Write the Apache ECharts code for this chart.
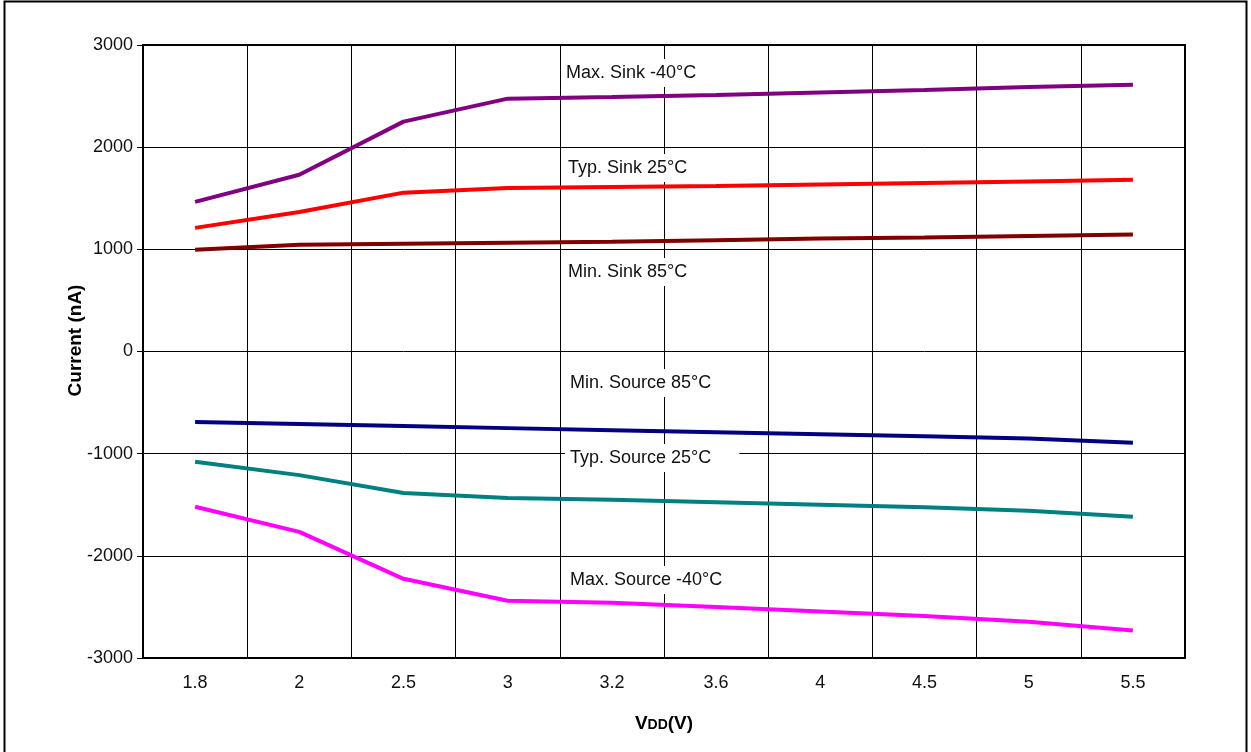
<!DOCTYPE html>
<html>
<head>
<meta charset="utf-8">
<script src="https://cdn.jsdelivr.net/npm/echarts@6/dist/echarts.min.js"></script>
<style>
  html, body { margin: 0; padding: 0; background: #fff; }
  #chart { width: 1251px; height: 752px; }
</style>
</head>
<body>
<div id="chart"></div>
<script>
// VDD categories
const vdd = ['1.8', '2', '2.5', '3', '3.2', '3.6', '4', '4.5', '5', '5.5'];

// current in nA
const maxSink40 = [1465, 1730, 2250, 2475, 2490, 2510, 2535, 2560, 2590, 2612];
const typSink25 = [1210, 1365, 1555, 1600, 1610, 1620, 1635, 1650, 1665, 1680];
const minSink85 = [995, 1045, 1055, 1065, 1075, 1090, 1105, 1115, 1130, 1145];
const minSource85 = [-690, -710, -730, -750, -770, -790, -810, -830, -852, -892];
const typSource25 = [-1080, -1210, -1385, -1435, -1450, -1475, -1500, -1525, -1558, -1618];
const maxSource40 = [-1520, -1765, -2225, -2440, -2460, -2500, -2545, -2590, -2645, -2730];

const yTicks = { min: -3000, max: 3000, step: 1000 };

const SERIES = [
  { name: 'Max. Sink -40°C', data: maxSink40, color: '#800080' },
  { name: 'Typ. Sink 25°C', data: typSink25, color: '#ff0000' },
  { name: 'Min. Sink 85°C', data: minSink85, color: '#800000' },
  { name: 'Min. Source 85°C', data: minSource85, color: '#000080' },
  { name: 'Typ. Source 25°C', data: typSource25, color: '#008080' },
  { name: 'Max. Source -40°C', data: maxSource40, color: '#ff00ff' }
];

// curve labels: [text, text left, text middle]
const NOTES = [
  ['Max. Sink -40°C', 566, 73],
  ['Typ. Sink 25°C', 568, 168],
  ['Min. Sink 85°C', 568, 272],
  ['Min. Source 85°C', 570, 383],
  ['Typ. Source 25°C', 570, 458],
  ['Max. Source -40°C', 570, 580]
];

const FONT = '"Liberation Sans", Arial, sans-serif';
const NOTE_SIZE = 18;
const PAD = [5, 28, 5, 5];

const chart = echarts.init(document.getElementById('chart'));

chart.setOption({
  animation: false,
  backgroundColor: '#fff',
  grid: {
    left: 143,
    right: 66,
    top: 45,
    bottom: 94,
    show: true,
    borderColor: '#000',
    borderWidth: 2
  },
  xAxis: {
    type: 'category',
    data: vdd,
    boundaryGap: true,
    name: '{v|V}{dd|DD}{v|(V)}',
    nameLocation: 'middle',
    nameGap: 56,
    nameTextStyle: {
      rich: {
        v: { fontFamily: FONT, fontSize: 19, fontWeight: 'bold', color: '#000' },
        dd: { fontFamily: FONT, fontSize: 14, fontWeight: 'bold', color: '#000', padding: [4, 0, 0, 0] }
      }
    },
    axisLine: { onZero: false, lineStyle: { color: '#000', width: 2 } },
    axisTick: { show: false },
    axisLabel: { color: '#111', fontFamily: FONT, fontSize: 18, margin: 16 },
    splitLine: { show: true, interval: 0, lineStyle: { color: '#000', width: 1 } }
  },
  yAxis: {
    type: 'value',
    min: yTicks.min,
    max: yTicks.max,
    interval: yTicks.step,
    name: 'Current (nA)',
    nameLocation: 'middle',
    nameGap: 58,
    nameMoveOverlap: false,
    nameTextStyle: {
      fontFamily: FONT,
      fontSize: 19,
      fontWeight: 'bold',
      color: '#000',
      padding: [0, 0, 0, 22]
    },
    axisLine: { show: true, lineStyle: { color: '#000', width: 2 } },
    axisTick: { show: true, length: 6, lineStyle: { color: '#000', width: 1 } },
    axisLabel: {
      color: '#111',
      fontFamily: FONT,
      fontSize: 18,
      margin: 10,
      formatter: v => String(v)
    },
    splitLine: { show: true, lineStyle: { color: '#000', width: 1 } }
  },
  series: SERIES.map(s => ({
    name: s.name,
    type: 'line',
    data: s.data,
    symbol: 'none',
    lineStyle: { color: s.color, width: 4 },
    itemStyle: { color: s.color },
    z: 3
  })),
  graphic: [
    {
      type: 'rect',
      shape: { x: 4.5, y: 1.5, width: 1242, height: 800 },
      style: { fill: 'none', stroke: '#000', lineWidth: 2 },
      silent: true,
      z: 0
    }
  ].concat(NOTES.map(n => ({
    type: 'text',
    left: n[1] - PAD[3],
    top: n[2] - NOTE_SIZE / 2 - PAD[0],
    z: 10,
    style: {
      text: n[0],
      font: NOTE_SIZE + 'px ' + FONT,
      fill: '#111',
      backgroundColor: '#fff',
      padding: PAD
    }
  })))
});
</script>
</body>
</html>
